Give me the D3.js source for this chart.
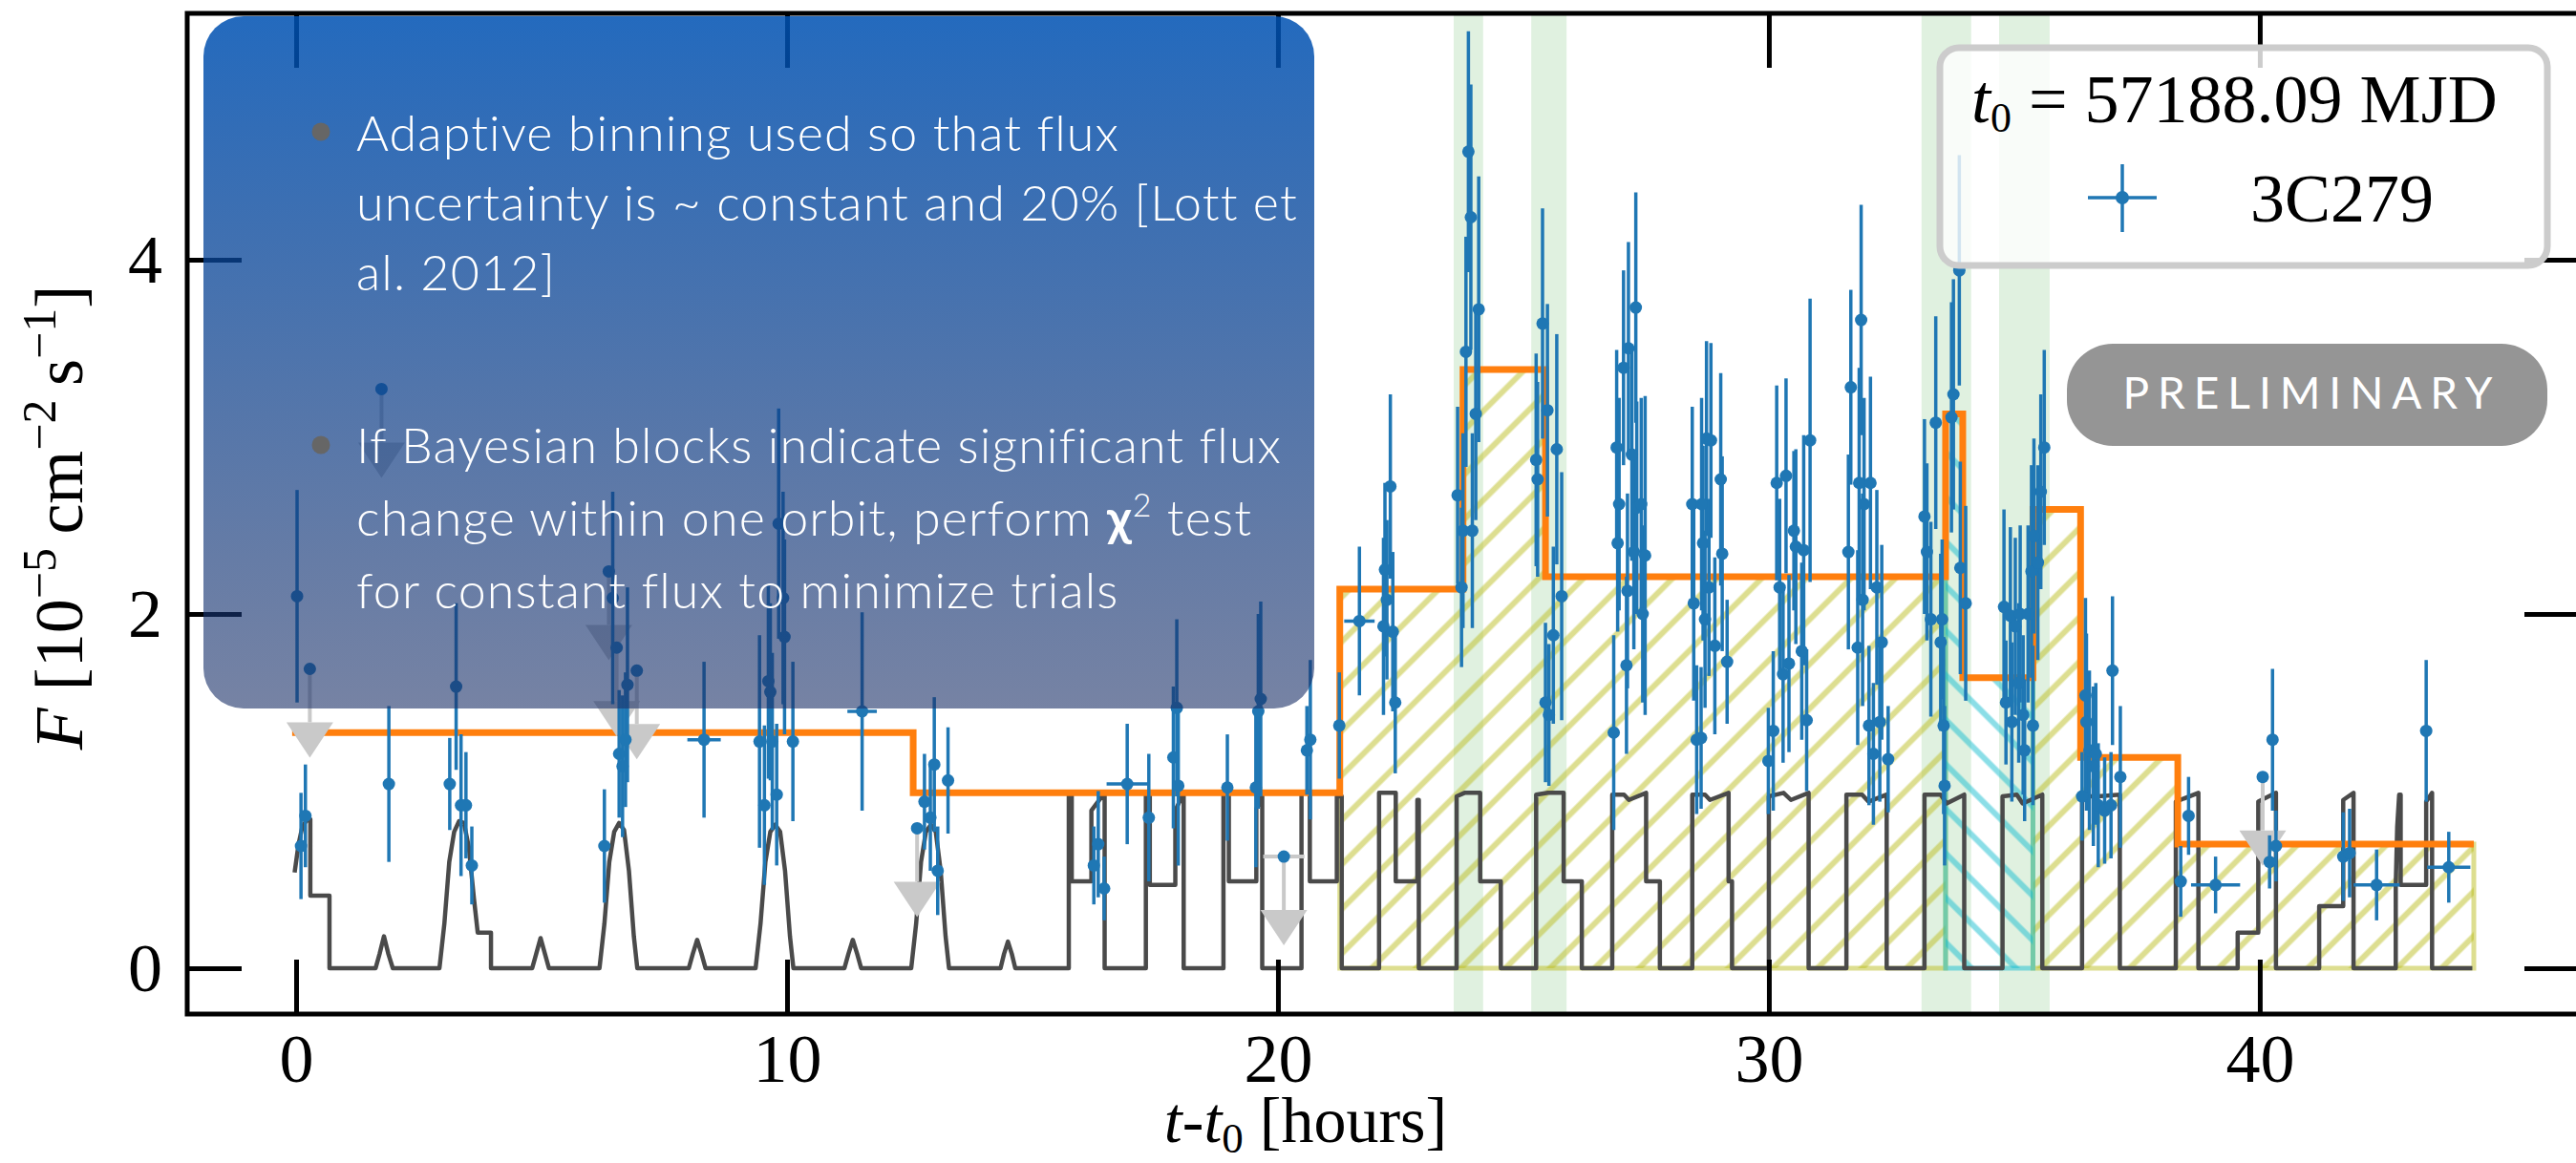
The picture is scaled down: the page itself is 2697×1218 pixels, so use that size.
<!DOCTYPE html>
<html>
<head>
<meta charset="utf-8">
<script src="https://cdn.jsdelivr.net/npm/d3@7"></script>
<style>
  html, body { margin: 0; padding: 0; background: #fff; }
  svg { display: block; }
</style>
</head>
<body>
<div id="chart"></div>
<script>
// ---- data ----
const xTicks = [0, 10, 20, 30, 40];
const yTicks = [0, 2, 4];
const legendEpoch = "57188.09";
const sourceName = "3C279";

// [t (hours), flux, flux error]
const fluxPoints = [
  [0.02, 2.10, 0.60], [0.10, 0.69, 0.30], [0.19, 0.86, 0.29], [1.89, 1.04, 0.44],
  [3.13, 1.04, 0.26], [3.26, 1.59, 0.47], [3.36, 0.92, 0.40], [3.46, 0.92, 0.30], [3.58, 0.58, 0.22],
  [6.28, 0.69, 0.32], [6.45, 2.09, 0.60], [6.58, 1.21, 0.36], [6.65, 1.14, 0.40], [6.71, 1.29, 0.38], [6.75, 1.60, 0.55],
  [9.44, 1.28, 0.60], [9.54, 0.92, 0.45], [9.62, 1.62, 0.55], [9.66, 1.56, 0.50], [9.70, 1.28, 0.50],
  [9.79, 0.98, 0.40], [9.83, 2.51, 0.65], [9.92, 2.09, 0.60], [9.95, 1.87, 0.55], [10.12, 1.28, 0.45],
  [12.80, 0.94, 0.27], [12.92, 0.85, 0.30], [13.00, 1.15, 0.38], [13.07, 0.55, 0.25], [13.28, 1.06, 0.30],
  [16.25, 0.58, 0.22], [16.34, 0.70, 0.30], [16.46, 0.45, 0.18],
  [17.37, 0.85, 0.36], [17.87, 1.19, 0.40], [17.94, 1.47, 0.50], [17.97, 1.03, 0.45],
  [18.97, 1.02, 0.30], [19.55, 1.02, 0.45], [19.60, 1.45, 0.55], [19.65, 1.52, 0.55],
  [20.59, 1.23, 0.25], [20.66, 1.29, 0.45], [21.25, 1.37, 0.30],
  [22.15, 1.93, 0.50], [22.18, 2.25, 0.49], [22.22, 2.08, 0.45], [22.29, 2.72, 0.52], [22.34, 1.90, 0.45], [22.39, 1.50, 0.40],
  [23.66, 2.67, 0.50], [23.74, 2.15, 0.45], [23.77, 2.47, 0.55], [23.83, 3.48, 0.65], [23.88, 4.61, 0.68],
  [23.93, 4.24, 0.75], [23.96, 2.47, 0.55], [24.03, 3.13, 0.60], [24.09, 3.72, 0.75],
  [25.26, 2.87, 0.60], [25.29, 2.76, 0.55], [25.39, 3.64, 0.65], [25.45, 1.50, 0.45], [25.49, 3.15, 0.60],
  [25.52, 1.43, 0.40], [25.61, 1.88, 0.50], [25.68, 2.93, 0.65], [25.78, 2.10, 0.70],
  [26.84, 1.33, 0.55], [26.90, 2.94, 0.55], [26.92, 2.40, 0.50], [26.95, 2.62, 0.60], [27.04, 3.39, 0.55],
  [27.10, 1.71, 0.50], [27.12, 2.13, 0.55], [27.14, 3.50, 0.60], [27.21, 2.90, 0.60], [27.25, 2.35, 0.55],
  [27.29, 3.73, 0.65], [27.31, 2.60, 0.60], [27.40, 2.62, 0.60], [27.43, 2.00, 0.50], [27.48, 2.33, 0.90],
  [28.44, 2.62, 0.55], [28.47, 2.06, 0.55], [28.53, 1.29, 0.42], [28.62, 1.30, 0.40], [28.63, 2.62, 0.60],
  [28.66, 2.40, 0.55], [28.70, 1.97, 0.50], [28.73, 2.99, 0.55], [28.78, 2.15, 0.50], [28.82, 2.98, 0.55],
  [28.90, 1.82, 0.50], [29.02, 2.76, 0.60], [29.05, 2.34, 0.55], [29.15, 1.73, 0.35],
  [29.99, 1.17, 0.30], [30.09, 1.34, 0.45], [30.16, 2.74, 0.55], [30.22, 2.15, 0.50], [30.29, 1.66, 0.50],
  [30.35, 2.78, 0.55], [30.41, 1.72, 0.50], [30.51, 2.47, 0.45], [30.55, 2.38, 0.55], [30.67, 1.79, 0.50],
  [30.71, 2.36, 0.65], [30.77, 1.40, 0.40], [30.84, 2.98, 0.80],
  [31.62, 2.35, 0.55], [31.67, 3.28, 0.55], [31.81, 1.81, 0.55], [31.84, 2.74, 0.65], [31.88, 3.66, 0.65],
  [31.91, 2.08, 0.60], [31.94, 2.62, 0.60], [32.04, 1.37, 0.45], [32.07, 2.74, 0.60], [32.13, 1.21, 0.40],
  [32.20, 2.15, 0.55], [32.26, 1.39, 0.45], [32.30, 1.84, 0.55], [32.43, 1.18, 0.30],
  [33.17, 2.55, 0.55], [33.22, 2.35, 0.50], [33.30, 1.97, 0.55], [33.40, 3.08, 0.60], [33.50, 1.84, 0.50],
  [33.53, 1.97, 0.45], [33.56, 1.37, 0.50], [33.58, 1.03, 0.45], [33.72, 3.11, 0.65], [33.76, 3.24, 0.65],
  [33.88, 3.94, 0.65], [33.90, 2.26, 0.60], [34.01, 2.06, 0.55],
  [34.79, 2.04, 0.55], [34.83, 1.50, 0.35], [34.92, 1.99, 0.50], [34.95, 1.39, 0.45], [35.02, 1.93, 0.50],
  [35.09, 1.61, 0.45], [35.12, 2.00, 0.50], [35.18, 1.43, 0.45], [35.21, 1.23, 0.40], [35.28, 2.00, 0.50],
  [35.35, 2.24, 0.60], [35.38, 1.37, 0.45], [35.40, 2.44, 0.55], [35.48, 2.29, 0.55], [35.54, 2.69, 0.55], [35.61, 2.94, 0.55],
  [36.38, 0.97, 0.25], [36.45, 1.54, 0.55], [36.47, 1.39, 0.50], [36.53, 1.23, 0.45], [36.61, 1.14, 0.45],
  [36.66, 1.21, 0.40], [36.71, 0.92, 0.35], [36.84, 0.89, 0.30], [36.97, 0.92, 0.30], [37.00, 1.68, 0.42], [37.16, 1.08, 0.40],
  [38.39, 0.49, 0.20], [38.55, 0.86, 0.22],
  [40.20, 0.60, 0.15], [40.26, 1.29, 0.40], [40.33, 0.69, 0.20],
  [41.70, 0.63, 0.25], [41.83, 0.65, 0.25], [43.39, 1.34, 0.40]
];

// wider bins: [t, flux, flux error, half width in hours]
const wideBins = [
  [8.31, 1.29, 0.44, 0.34], [11.53, 1.45, 0.56, 0.30], [16.93, 1.04, 0.34, 0.42], [21.66, 1.96, 0.42, 0.31],
  [39.10, 0.47, 0.16, 0.50], [42.38, 0.47, 0.20, 0.47], [43.85, 0.57, 0.20, 0.44]
];

// upper limits: [t, flux, half width in hours]
const upperLimits = [
  [0.28, 1.69, 0], [1.74, 3.27, 0], [6.37, 2.24, 0], [6.53, 1.81, 0], [6.94, 1.68, 0],
  [12.65, 0.79, 0], [20.12, 0.63, 0.42], [40.06, 1.08, 0]
];

// Bayesian blocks
const blockEdges = [-0.08, 12.57, 21.26, 23.77, 25.45, 33.60, 33.95, 35.38, 36.35, 38.33, 44.36];
const blockFlux  = [1.33, 0.99, 2.14, 3.38, 2.21, 3.13, 1.64, 2.59, 1.19, 0.70];

// flare ranges under the blocks
const flareRanges = [[21.26, 33.60], [35.38, 44.36]];
const chi2Range = [33.60, 35.38];

// highlighted orbits
const orbitBands = [[23.58, 24.18], [25.16, 25.88], [33.11, 34.12], [34.69, 35.72]];

// exposure curve vertices [t, relative exposure]
const exposureCurve = [
  [-0.03, 0.54], [0.05, 0.70], [0.12, 0.79], [0.20, 0.83], [0.29, 0.84], [0.29, 0.41], [0.68, 0.41], [0.68, 0],
  [1.62, 0], [1.70, 0.08], [1.79, 0.18], [1.88, 0.08], [1.97, 0],
  [2.92, 0], [3.02, 0.25], [3.12, 0.60], [3.22, 0.77], [3.32, 0.83], [3.42, 0.82], [3.52, 0.68], [3.62, 0.40], [3.70, 0.20], [3.97, 0.20], [3.97, 0],
  [4.81, 0], [4.89, 0.08], [4.98, 0.17], [5.07, 0.08], [5.15, 0],
  [6.18, 0], [6.28, 0.25], [6.38, 0.60], [6.48, 0.77], [6.58, 0.82], [6.68, 0.78], [6.78, 0.55], [6.88, 0.18], [6.95, 0],
  [8.00, 0], [8.08, 0.08], [8.17, 0.16], [8.26, 0.08], [8.34, 0],
  [9.36, 0], [9.46, 0.25], [9.56, 0.60], [9.66, 0.77], [9.76, 0.81], [9.86, 0.77], [9.96, 0.55], [10.06, 0.18], [10.13, 0],
  [11.17, 0], [11.25, 0.08], [11.34, 0.16], [11.43, 0.08], [11.51, 0],
  [12.53, 0], [12.63, 0.25], [12.73, 0.60], [12.83, 0.77], [12.93, 0.81], [13.03, 0.77], [13.13, 0.55], [13.23, 0.18], [13.30, 0],
  [14.35, 0], [14.42, 0.08], [14.50, 0.15], [14.58, 0.08], [14.65, 0],
  [15.74, 0], [15.74, 0.99], [15.80, 0.99], [15.80, 0.49], [16.20, 0.49], [16.20, 0.89], [16.47, 0.99], [16.47, 0],
  [17.31, 0], [17.31, 0.99], [17.39, 0.99], [17.39, 0.47], [17.91, 0.47], [17.91, 0.89], [18.08, 0.99], [18.08, 0],
  [18.89, 0], [18.89, 0.99], [19.00, 0.99], [19.00, 0.49], [19.56, 0.49], [19.56, 0.90], [19.68, 0.97], [19.68, 0],
  [20.48, 0], [20.48, 0.99], [20.65, 0.99], [20.65, 0.49], [21.20, 0.49], [21.20, 0.97], [21.30, 0.97], [21.30, 0],
  [22.06, 0], [22.06, 0.99], [22.40, 0.99], [22.40, 0.49], [22.84, 0.49], [22.84, 0.95], [22.87, 0.95], [22.87, 0],
  [23.64, 0], [23.64, 0.97], [23.80, 0.99], [24.12, 0.99], [24.12, 0.49], [24.54, 0.49], [24.54, 0],
  [25.26, 0], [25.26, 0.98], [25.50, 0.99], [25.82, 0.99], [25.82, 0.49], [26.19, 0.49], [26.19, 0],
  [26.81, 0], [26.81, 0.98], [27.05, 0.98], [27.15, 0.95], [27.50, 0.99], [27.50, 0.49], [27.78, 0.49], [27.78, 0],
  [28.44, 0], [28.44, 0.98], [28.70, 0.98], [28.80, 0.95], [29.18, 0.99], [29.18, 0.49], [29.25, 0.49], [29.25, 0],
  [30.00, 0], [30.00, 0.97], [30.30, 0.99], [30.45, 0.95], [30.81, 0.99], [30.81, 0],
  [31.58, 0], [31.58, 0.98], [31.90, 0.98], [32.03, 0.94], [32.40, 0.98], [32.40, 0],
  [33.17, 0], [33.17, 0.98], [33.50, 0.98], [33.62, 0.93], [33.98, 0.98], [33.98, 0],
  [34.76, 0], [34.76, 0.97], [35.05, 0.98], [35.17, 0.93], [35.57, 0.98], [35.57, 0],
  [36.38, 0], [36.38, 0.97], [36.70, 0.97], [37.15, 0.98], [37.15, 0],
  [38.29, 0], [38.29, 0.94], [38.75, 0.99], [38.75, 0],
  [39.55, 0], [39.55, 0.20], [39.97, 0.20], [39.97, 0.94], [40.33, 0.99], [40.33, 0],
  [41.21, 0], [41.21, 0.35], [41.70, 0.35], [41.70, 0.95], [41.91, 0.99], [41.91, 0],
  [42.77, 0], [42.77, 0.47], [42.80, 0.80], [42.84, 0.98], [42.87, 0.98], [42.87, 0.47], [43.39, 0.47],
  [43.39, 0.94], [43.51, 0.99], [43.51, 0], [44.33, 0]
];

const noteLines = [
  "Adaptive binning used so that flux",
  "uncertainty is ~ constant and 20% [Lott et",
  "al. 2012]",
  "If Bayesian blocks indicate significant flux",
  "change within one orbit, perform |χ|² test",
  "for constant flux to minimize trials"
];

// ---- layout ----
const W = 2697, H = 1218;
const L = 196, R = 2700, T = 14, B = 1062;
const serif = "'Liberation Serif', 'Times New Roman', serif";
const sans = "Lato, 'Open Sans', sans-serif";
const blue = "#1f77b4", orange = "#ff7f0e", ulGray = "#c9c9c9";

const x = d3.scaleLinear().domain([-2.218, 46.5]).range([L, R]);
const y = d3.scaleLinear().domain([-0.259, 5.391]).range([B, T]);

const svg = d3.select("#chart").append("svg")
  .attr("width", W).attr("height", H)
  .style("background", "#fff");

const defs = svg.append("defs");
defs.append("clipPath").attr("id", "plotClip")
  .append("rect").attr("x", L).attr("y", T).attr("width", R - L).attr("height", B - T);

function hatch(id, color, angle) {
  const p = defs.append("pattern").attr("id", id)
    .attr("patternUnits", "userSpaceOnUse")
    .attr("width", 33).attr("height", 33)
    .attr("patternTransform", "rotate(" + angle + ")");
  p.append("line").attr("x1", 16.5).attr("y1", -2).attr("x2", 16.5).attr("y2", 35)
    .attr("stroke", color).attr("stroke-opacity", 0.5).attr("stroke-width", 6);
}
hatch("hatchOlive", "#bcbd22", 45);
hatch("hatchCyan", "#17becf", -45);

const grad = defs.append("linearGradient").attr("id", "boxGrad")
  .attr("x1", 0).attr("y1", 0).attr("x2", 0).attr("y2", 1);
grad.append("stop").attr("offset", 0).attr("stop-color", "#0052b3").attr("stop-opacity", 0.86);
grad.append("stop").attr("offset", 1).attr("stop-color", "#1b3067").attr("stop-opacity", 0.6);

const plot = svg.append("g").attr("clip-path", "url(#plotClip)");

// highlighted orbits
plot.selectAll("rect.band").data(orbitBands).join("rect")
  .attr("class", "band")
  .attr("x", d => x(d[0])).attr("width", d => x(d[1]) - x(d[0]))
  .attr("y", T).attr("height", B - T)
  .attr("fill", "#2ca02c").attr("fill-opacity", 0.15);

// hatched areas under the Bayesian blocks
const blocks = blockFlux.map((f, i) => ({ t0: blockEdges[i], t1: blockEdges[i + 1], f }));
function blockSteps(a, b) {
  const pts = [];
  blocks.forEach(bl => {
    const s = Math.max(a, bl.t0), e = Math.min(b, bl.t1);
    if (e > s) pts.push({ t: s, f: bl.f });
  });
  pts.push({ t: b, f: pts[pts.length - 1].f });
  return pts;
}
const stepArea = d3.area().curve(d3.curveStepAfter)
  .x(d => x(d.t)).y0(y(0)).y1(d => y(d.f));

flareRanges.forEach(r => {
  plot.append("path").attr("d", stepArea(blockSteps(r[0], r[1])))
    .attr("fill", "url(#hatchOlive)")
    .attr("stroke", "#bcbd22").attr("stroke-opacity", 0.5).attr("stroke-width", 5);
});
plot.append("path").attr("d", stepArea(blockSteps(chi2Range[0], chi2Range[1])))
  .attr("fill", "url(#hatchCyan)")
  .attr("stroke", "#17becf").attr("stroke-opacity", 0.5).attr("stroke-width", 5);

// exposure curve
plot.append("path")
  .attr("d", d3.line().x(d => x(d[0])).y(d => y(d[1]))(exposureCurve))
  .attr("fill", "none").attr("stroke", "#4a4a4a").attr("stroke-width", 4.5)
  .attr("stroke-linejoin", "round");

// Bayesian block line
const blockLine = [];
blocks.forEach(bl => { blockLine.push([bl.t0, bl.f], [bl.t1, bl.f]); });
plot.append("path")
  .attr("d", d3.line().x(d => x(d[0])).y(d => y(d[1]))(blockLine))
  .attr("fill", "none").attr("stroke", orange).attr("stroke-width", 7);

// upper limits
const ul = plot.append("g");
upperLimits.forEach(d => {
  const cx = x(d[0]), cy = y(d[1]);
  if (d[2] > 0) {
    ul.append("line").attr("x1", x(d[0] - d[2])).attr("x2", x(d[0] + d[2]))
      .attr("y1", cy).attr("y2", cy).attr("stroke", ulGray).attr("stroke-width", 4);
  }
  ul.append("line").attr("x1", cx).attr("x2", cx).attr("y1", cy).attr("y2", cy + 56)
    .attr("stroke", ulGray).attr("stroke-width", 4);
  ul.append("path")
    .attr("d", `M${cx - 24.5},${cy + 56}L${cx + 24.5},${cy + 56}L${cx},${cy + 93}Z`)
    .attr("fill", ulGray);
});

// flux points
const pts = plot.append("g");
pts.selectAll("line.err").data(fluxPoints.concat(wideBins)).join("line")
  .attr("class", "err")
  .attr("x1", d => x(d[0])).attr("x2", d => x(d[0]))
  .attr("y1", d => y(d[1] - d[2])).attr("y2", d => y(d[1] + d[2]))
  .attr("stroke", blue).attr("stroke-width", 3.5);
pts.selectAll("line.xerr").data(wideBins).join("line")
  .attr("class", "xerr")
  .attr("x1", d => x(d[0] - d[3])).attr("x2", d => x(d[0] + d[3]))
  .attr("y1", d => y(d[1])).attr("y2", d => y(d[1]))
  .attr("stroke", blue).attr("stroke-width", 3.5);
pts.selectAll("circle").data(fluxPoints.concat(wideBins, upperLimits)).join("circle")
  .attr("cx", d => x(d[0])).attr("cy", d => y(d[1])).attr("r", 6.5)
  .attr("fill", blue);

// ---- axes ----
function styleAxis(g) {
  g.select(".domain").remove();
  g.selectAll(".tick line").attr("stroke", "#000").attr("stroke-width", 5);
  g.selectAll(".tick text").attr("fill", "#000");
  g.attr("font-family", serif).attr("font-size", 72);
}
svg.append("g").attr("transform", `translate(0,${B})`)
  .call(d3.axisBottom(x).tickValues(xTicks).tickFormat(d3.format("d")).tickSize(-57).tickPadding(20))
  .call(styleAxis);
svg.append("g").attr("transform", `translate(0,${T})`)
  .call(d3.axisTop(x).tickValues(xTicks).tickFormat("").tickSize(-57))
  .call(styleAxis);
svg.append("g").attr("transform", `translate(${L},0)`)
  .call(d3.axisLeft(y).tickValues(yTicks).tickFormat(d3.format("d")).tickSize(-57).tickPadding(26))
  .call(styleAxis);
svg.append("g").attr("transform", `translate(${R},0)`)
  .call(d3.axisRight(y).tickValues(yTicks).tickFormat("").tickSize(-57))
  .call(styleAxis);

svg.append("rect").attr("x", L).attr("y", T).attr("width", R - L).attr("height", B - T)
  .attr("fill", "none").attr("stroke", "#000").attr("stroke-width", 5);

// axis labels
const xl = svg.append("text").attr("x", 1367).attr("y", 1196)
  .attr("text-anchor", "middle").attr("font-family", serif).attr("font-size", 68);
xl.append("tspan").attr("font-style", "italic").text("t");
xl.append("tspan").text("-");
xl.append("tspan").attr("font-style", "italic").text("t");
xl.append("tspan").attr("font-size", 45).attr("dy", 11).text("0");
xl.append("tspan").attr("dy", -11).text(" [hours]");

const yl = svg.append("text").attr("transform", "translate(86,542) rotate(-90)")
  .attr("text-anchor", "middle").attr("font-family", serif).attr("font-size", 72);
yl.append("tspan").attr("font-style", "italic").text("F");
yl.append("tspan").text(" [10");
yl.append("tspan").attr("font-size", 50).attr("dy", -28).text("−5");
yl.append("tspan").attr("dy", 28).text("\u2009cm");
yl.append("tspan").attr("font-size", 50).attr("dy", -28).text("−2");
yl.append("tspan").attr("dy", 28).text("\u2009s");
yl.append("tspan").attr("font-size", 50).attr("dy", -28).text("−1");
yl.append("tspan").attr("dy", 28).text("]");

// ---- note box ----
svg.append("rect").attr("x", 213).attr("y", 17).attr("width", 1163).attr("height", 725)
  .attr("rx", 42).attr("fill", "url(#boxGrad)");
svg.selectAll("circle.bullet").data([138, 466]).join("circle")
  .attr("class", "bullet").attr("cx", 336).attr("cy", d => d).attr("r", 9.5).attr("fill", "#666");
const lineY = [158, 231, 304, 485, 561, 637];
const noteText = svg.append("g").attr("font-family", sans).attr("font-size", 52)
  .attr("font-weight", 300).attr("fill", "#fff");
noteLines.forEach((s, i) => {
  const t = noteText.append("text").attr("x", 373).attr("y", lineY[i]);
  s.split("|").forEach((part, j) => {
    if (j === 1) {
      t.append("tspan").attr("font-weight", "bold").text(part);
    } else if (part.startsWith("²")) {
      t.append("tspan").attr("font-size", 34).attr("dy", -20).text("2");
      t.append("tspan").attr("dy", 20).text(part.slice(1));
    } else {
      t.append("tspan").text(part);
    }
  });
});
// fit tracking to the first line
const first = noteText.select("text").node();
const natural = first.getComputedTextLength();
const spacing = (800 - natural) / noteLines[0].length;
noteText.attr("letter-spacing", spacing);

// ---- legend ----
const leg = svg.append("g");
leg.append("rect").attr("x", 2031).attr("y", 50).attr("width", 636).attr("height", 228).attr("rx", 20)
  .attr("fill", "#fff").attr("fill-opacity", 0.8).attr("stroke", "#cccccc").attr("stroke-width", 7);
const lt = leg.append("text").attr("x", 2064).attr("y", 128)
  .attr("font-family", serif).attr("font-size", 72);
lt.append("tspan").attr("font-style", "italic").text("t");
lt.append("tspan").attr("font-size", 44).attr("dy", 10).text("0");
lt.append("tspan").attr("dy", -10).text(" = " + legendEpoch + " MJD");
leg.append("line").attr("x1", 2186).attr("x2", 2258).attr("y1", 207).attr("y2", 207)
  .attr("stroke", blue).attr("stroke-width", 3.5);
leg.append("line").attr("x1", 2222).attr("x2", 2222).attr("y1", 172).attr("y2", 243)
  .attr("stroke", blue).attr("stroke-width", 3.5);
leg.append("circle").attr("cx", 2222).attr("cy", 207).attr("r", 7).attr("fill", blue);
leg.append("text").attr("x", 2356).attr("y", 232)
  .attr("font-family", serif).attr("font-size", 72).text(sourceName);

// ---- preliminary badge ----
svg.append("rect").attr("x", 2164).attr("y", 360).attr("width", 503).attr("height", 107)
  .attr("rx", 48).attr("fill", "#959595");
const pre = svg.append("text").attr("x", 2416).attr("y", 428).attr("text-anchor", "middle")
  .attr("font-family", sans).attr("font-size", 46).attr("fill", "#fff").text("PRELIMINARY");
const preW = pre.node().getComputedTextLength();
pre.attr("letter-spacing", (387 - preW) / 10).attr("dx", (387 - preW) / 20);
</script>
</body>
</html>
